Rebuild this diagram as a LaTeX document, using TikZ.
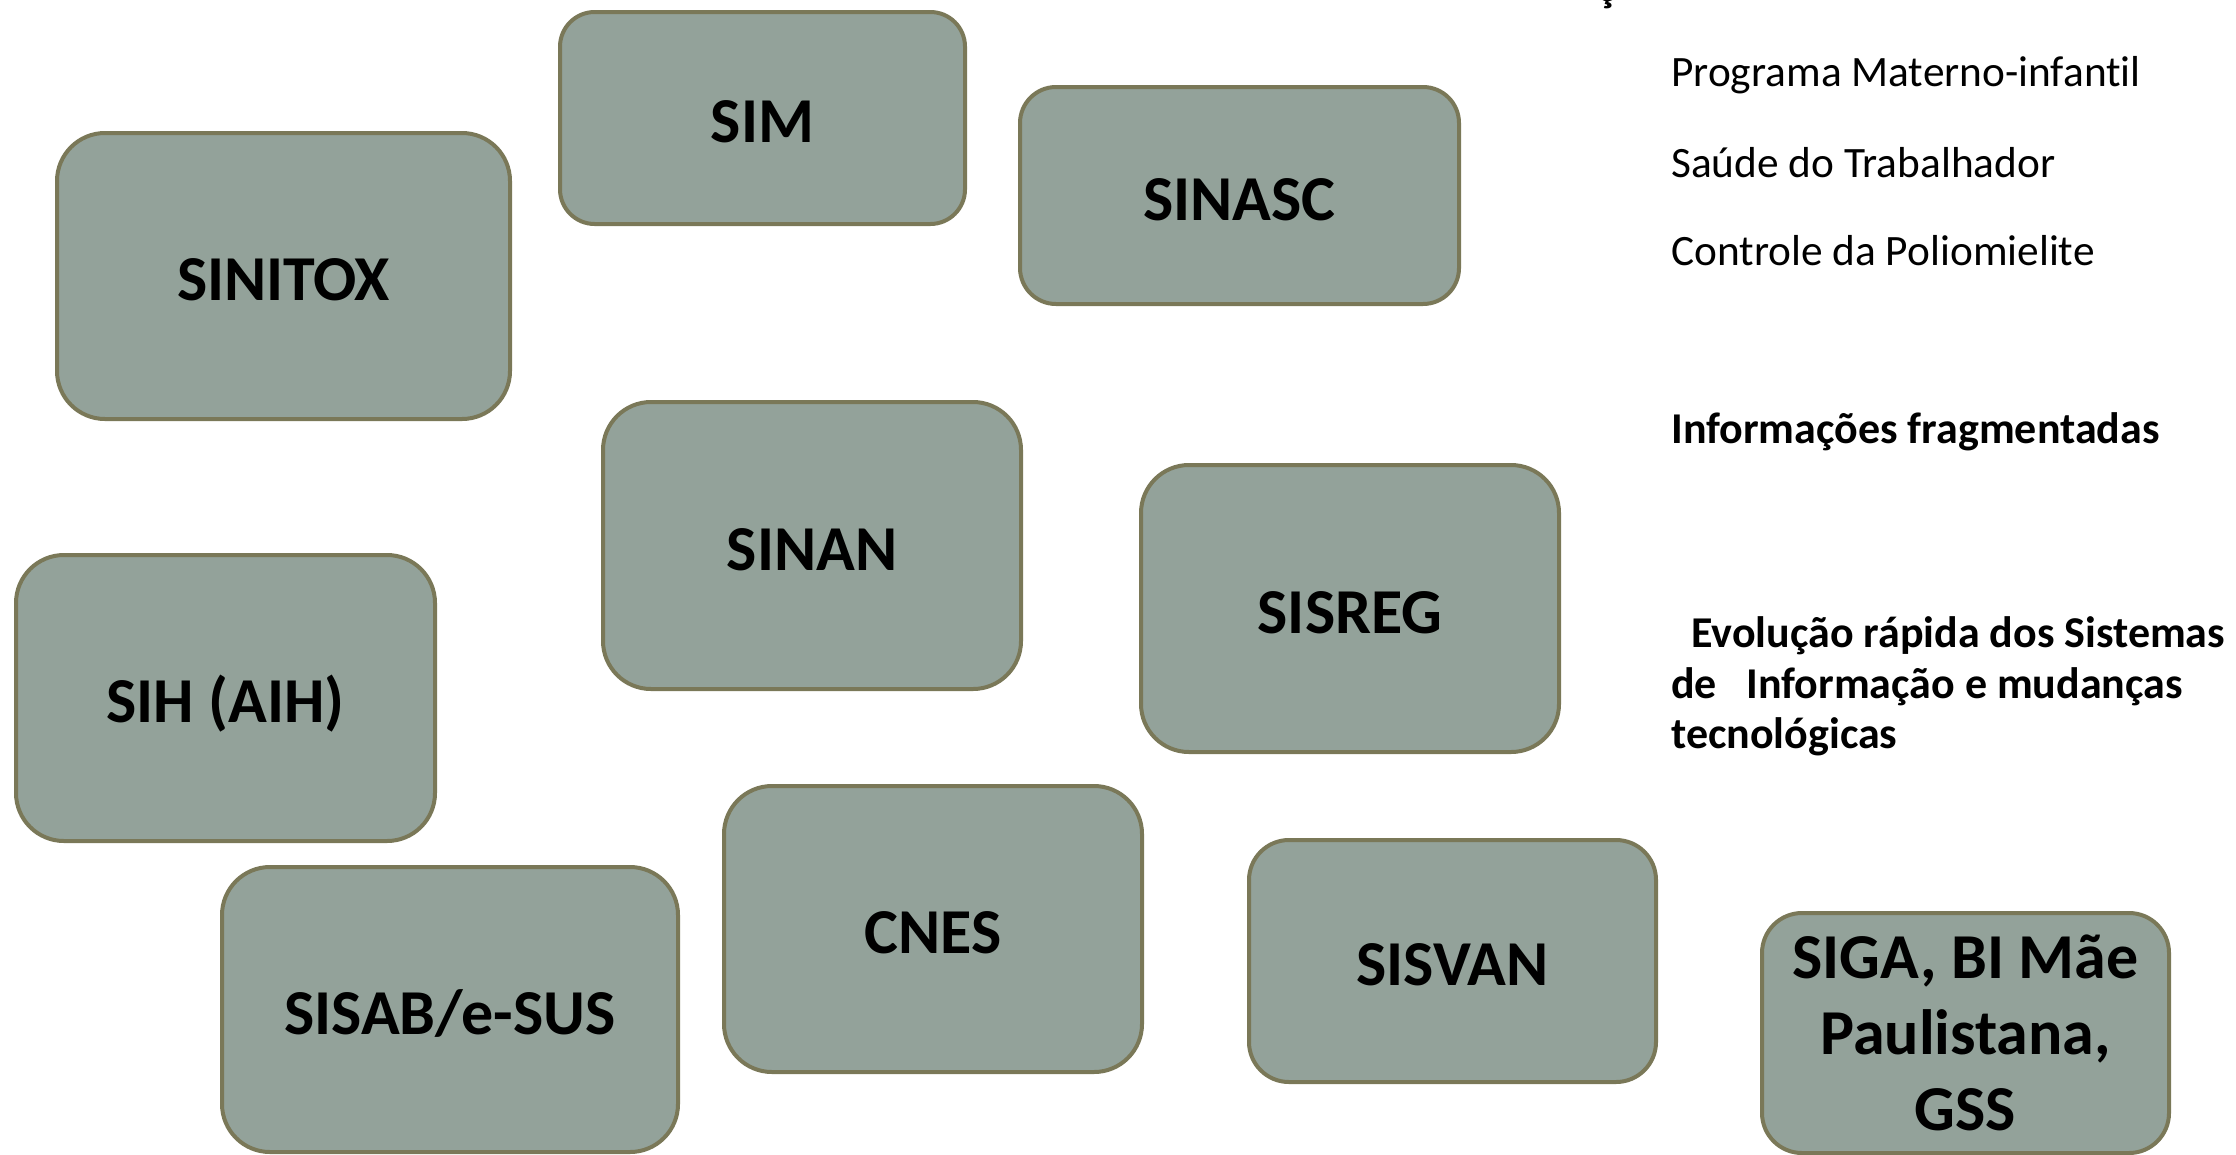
\documentclass[tikz,border=0pt]{standalone}
\usepackage{fontspec}
\setmainfont{Carlito}[Ligatures=NoCommon]
\definecolor{boxfill}{RGB}{147,162,154}
\definecolor{boxline}{RGB}{122,120,88}
\begin{document}
\begin{tikzpicture}[x=0.75pt,y=-0.75pt,
  sysbox/.style={draw=boxline, fill=boxfill, line width=3pt, rounded corners=#1,
    font=\fontsize{48}{57}\selectfont\bfseries, align=center, inner sep=0pt},
  sysbox/.default=36pt,
  oneline/.style={text height=37pt, text depth=0pt},
  note/.style={anchor=base west, inner sep=0pt, font=\fontsize{32.5}{38}\selectfont},
  notebold/.style={anchor=base west, inner sep=0pt, font=\fontsize{33}{38}\selectfont\bfseries}
]
\useasboundingbox[fill=white] (0,0) rectangle (2236,1154);

\node[sysbox=26pt, oneline, minimum width=303.75pt, minimum height=159pt] (sim) at (762.5,118) {SIM};
\node[sysbox=27pt, oneline, minimum width=329.25pt, minimum height=162.75pt] (sinasc) at (1239.5,195.5) {SINASC};
\node[sysbox, oneline, minimum width=339.75pt, minimum height=214.5pt] (sinitox) at (283.5,276) {SINITOX};
\node[sysbox, oneline, minimum width=313.5pt, minimum height=215.25pt] (sinan) at (812,545.5) {SINAN};
\node[sysbox, oneline, minimum width=313.5pt, minimum height=215.25pt] (sisreg) at (1350,608.5) {SISREG};
\node[sysbox, oneline, minimum width=314.25pt, minimum height=214.5pt] (sih) at (225.5,698) {SIH (AIH)};
\node[sysbox, oneline, minimum width=313.5pt, minimum height=214.5pt] (cnes) at (933,929) {CNES};
\node[sysbox=30pt, oneline, minimum width=305.25pt, minimum height=181.5pt] (sisvan) at (1452.5,961) {SISVAN};
\node[sysbox, oneline, minimum width=342pt, minimum height=213.75pt] (sisab) at (450,1009.5) {SISAB/e-SUS};
\node[sysbox=30pt, minimum width=305.25pt, minimum height=180pt] (siga) at (1965.5,1033) {SIGA, BI Mãe\\Paulistana,\\GSS};

\node[notebold, anchor=base] (frag) at (1607,1) {ç};
\node[note] (t1) at (1671,86) {Programa Materno-infantil};
\node[note] (t2) at (1671,177) {Saúde do Trabalhador};
\node[note] (t3) at (1671,265) {Controle da Poliomielite};
\node[notebold] (t4) at (1671,443) {Informações fragmentadas};
\node[notebold] (e1) at (1691,647) {Evolução rápida dos Sistemas};
\node[notebold] (e2) at (1671,698) {de\hspace{22pt}Informação e mudanças};
\node[notebold] (e3) at (1671,748) {tecnológicas};
\end{tikzpicture}
\end{document}
